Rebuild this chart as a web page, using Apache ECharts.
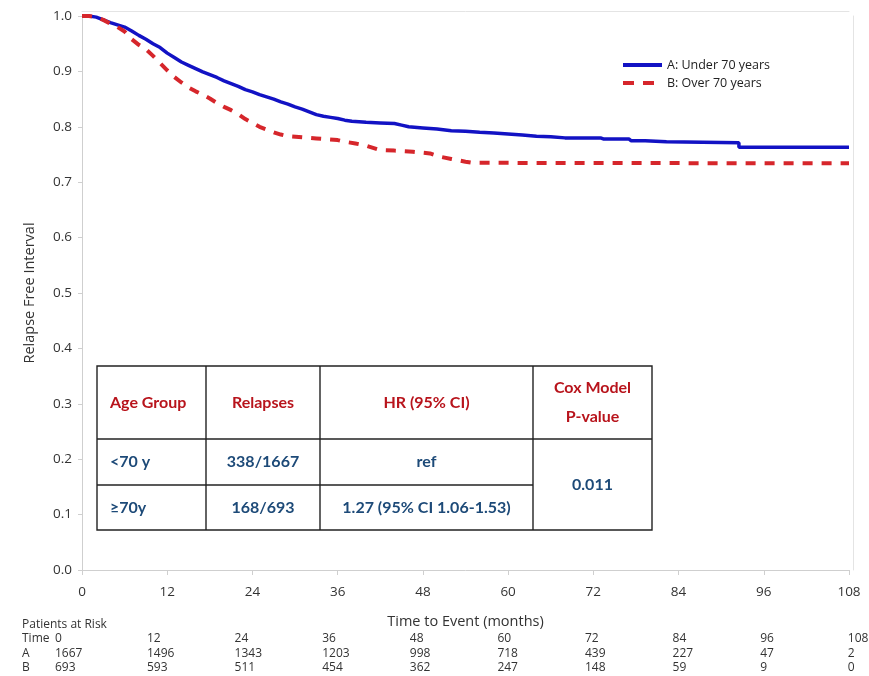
<!DOCTYPE html>
<html>
<head>
<meta charset="utf-8">
<script src="https://cdn.jsdelivr.net/npm/echarts@6/dist/echarts.min.js"></script>
<style>
html,body{margin:0;padding:0;background:#fff;}
#chart{width:869px;height:676px;}
</style>
</head>
<body>
<div id="chart"></div>
<script>
// ---- Data ----
const nameA = 'A: Under 70 years';
const nameB = 'B: Over 70 years';
const timeA = [0,1,2,3,4,5,6,7,8,9,10,11,12,13,14,15,16,17,18,19,20,21,22,23,24,25,26,27,28,29,30,31,32,33,34,35,36,37,38,39,40,42,44,45,46,48,50,52,54,56,58,60,62,64,66,68,73,73.4,77,77.3,79.3,79.5,82.3,82.5,92.5,92.5,108];
const survA = [1.0,1.0,0.998,0.993,0.988,0.984,0.980,0.973,0.965,0.958,0.950,0.943,0.933,0.925,0.917,0.911,0.905,0.899,0.894,0.889,0.883,0.878,0.873,0.867,0.863,0.858,0.854,0.850,0.845,0.841,0.836,0.832,0.827,0.822,0.819,0.817,0.815,0.812,0.810,0.809,0.808,0.807,0.806,0.803,0.800,0.798,0.796,0.793,0.792,0.790,0.789,0.787,0.785,0.783,0.782,0.780,0.780,0.778,0.778,0.775,0.775,0.773,0.773,0.771,0.771,0.763,0.763];
const timeB = [0,1,2,3,4,5,6,7,8,9,10,11,12,13,14,15,16,17,18,19,20,21,22,23,24,25,26,27,28,29,31,33,36,37,38.5,40,42,44,46.6,49,50.4,52,54,55,108];
const survB = [1.0,1.0,0.998,0.993,0.986,0.980,0.972,0.958,0.948,0.940,0.928,0.915,0.902,0.890,0.880,0.871,0.864,0.858,0.851,0.843,0.836,0.830,0.823,0.814,0.807,0.800,0.795,0.790,0.786,0.783,0.781,0.779,0.776,0.773,0.770,0.766,0.758,0.757,0.755,0.752,0.746,0.742,0.737,0.735,0.734];

const riskTimes = [0,12,24,36,48,60,72,84,96,108];
const riskA = [1667,1496,1343,1203,998,718,439,227,47,2];
const riskB = [693,593,511,454,362,247,148,59,9,0];

const tableHeader = ['Age Group','Relapses','HR (95% CI)','Cox Model\nP-value'];
const tableRow1 = ['<70 y','338/1667','ref'];
const tableRow2 = ['\u226570y','168/693','1.27 (95% CI 1.06-1.53)'];
const pValue = '0.011';

// ---- Styles ----
const axisGrey = '#cfcfcf';
const textGrey = '#333';
const blue = '#1212c4';
const red = '#d6262b';
const headRed = '#b8141c';
const bodyBlue = '#1d4a78';

const chart = echarts.init(document.getElementById('chart'), null, {renderer:'canvas'});

// graphic elements
const g = [];
// risk table
const riskFont = '12px "Open Sans"';
function riskX(i){ return i === 0 ? 55 : 147 + 87.6*(i-1); }
g.push({type:'text', style:{text:'Patients at Risk', x:22, y:625, font:riskFont, fill:textGrey, verticalAlign:'middle', textVerticalAlign:'middle'}});
[['Time',riskTimes,639],['A',riskA,654],['B',riskB,668]].forEach(function(r){
  g.push({type:'text', style:{text:r[0], x:22, y:r[2], font:riskFont, fill:textGrey, verticalAlign:'middle', textVerticalAlign:'middle'}});
  r[1].forEach(function(v,i){
    g.push({type:'text', style:{text:String(v), x:riskX(i), y:r[2], font:riskFont, fill:textGrey, verticalAlign:'middle', textVerticalAlign:'middle'}});
  });
});

// inset table
const tx = [97,206,320,533,652];
const ty = [366,439,485,530];
const lw = 1.4, lc = '#222';
function ln(x1,y1,x2,y2){ g.push({type:'line', shape:{x1:x1,y1:y1,x2:x2,y2:y2}, style:{stroke:lc, lineWidth:lw}, z:100}); }
g.push({type:'rect', shape:{x:tx[0],y:ty[0],width:tx[4]-tx[0],height:ty[3]-ty[0]}, style:{fill:'#fff', stroke:lc, lineWidth:lw}, z:99});
ln(tx[0],ty[1],tx[4],ty[1]);
ln(tx[0],ty[2],tx[3],ty[2]);
ln(tx[1],ty[0],tx[1],ty[3]);
ln(tx[2],ty[0],tx[2],ty[3]);
ln(tx[3],ty[0],tx[3],ty[3]);
const tFont = 'bold 16px Lato';
function tt(text,x,y,color,align){
  g.push({type:'text', z:101, style:{text:text, x:x, y:y, font:tFont, fill:color, align:align, textAlign:align, verticalAlign:'middle', textVerticalAlign:'middle', lineHeight:29}});
}
const hy = (ty[0]+ty[1])/2;
tt(tableHeader[0], 110, hy, headRed, 'left');
tt(tableHeader[1], (tx[1]+tx[2])/2, hy, headRed, 'center');
tt(tableHeader[2], (tx[2]+tx[3])/2, hy, headRed, 'center');
tt(tableHeader[3], (tx[3]+tx[4])/2, hy, headRed, 'center');
const r1y = (ty[1]+ty[2])/2, r2y = (ty[2]+ty[3])/2;
tt(tableRow1[0], 110, r1y, bodyBlue, 'left');
tt(tableRow1[1], (tx[1]+tx[2])/2, r1y, bodyBlue, 'center');
tt(tableRow1[2], (tx[2]+tx[3])/2, r1y, bodyBlue, 'center');
tt(tableRow2[0], 110, r2y, bodyBlue, 'left');
tt(tableRow2[1], (tx[1]+tx[2])/2, r2y, bodyBlue, 'center');
tt(tableRow2[2], (tx[2]+tx[3])/2, r2y, bodyBlue, 'center');
tt(pValue, (tx[3]+tx[4])/2, (ty[1]+ty[3])/2, bodyBlue, 'center');

const option = {
  animation:false,
  backgroundColor:'#fff',
  grid:{left:82, right:20, top:16, bottom:106},
  legend:{
    orient:'vertical', left:618, top:53, itemWidth:39, itemHeight:4, itemGap:4,
    data:[
      {name:nameA, icon:'path://M0,0H39V4H0Z'},
      {name:nameB, icon:'path://M0,0H11V4H0ZM20,0H31V4H20ZM39,0L39,4L39,0Z'}
    ],
    itemStyle:{borderWidth:0},
    textStyle:{fontFamily:'Open Sans', fontSize:12.5, color:'#222', padding:[0,0,0,0], lineHeight:14}
  },
  xAxis:[{
    type:'value', min:0, max:108, interval:12, offset:5,
    name:'Time to Event (months)', nameLocation:'middle', nameGap:39,
    nameTextStyle:{fontFamily:'Open Sans', fontSize:14.5, color:textGrey},
    axisLine:{show:true, lineStyle:{color:axisGrey, width:1}},
    axisTick:{show:true, length:5, lineStyle:{color:axisGrey}},
    axisLabel:{fontFamily:'Open Sans', fontSize:13.5, color:textGrey, margin:10},
    splitLine:{show:false}
  },{
    type:'value', min:0, max:108, position:'top', offset:5,
    axisLine:{show:true, onZero:false, lineStyle:{color:'#e4e4e4', width:1}},
    axisTick:{show:false}, axisLabel:{show:false}, splitLine:{show:false}
  }],
  yAxis:[{
    type:'value', min:0, max:1, interval:0.1, offset:4,
    name:'Relapse Free Interval', nameLocation:'middle', nameGap:41,
    nameTextStyle:{fontFamily:'Open Sans', fontSize:14.5, color:textGrey},
    axisLine:{show:true, lineStyle:{color:axisGrey, width:1}},
    axisTick:{show:true, length:4, lineStyle:{color:axisGrey}},
    axisLabel:{fontFamily:'Open Sans', fontSize:13.5, color:textGrey, margin:6,
      formatter:function(v){return v.toFixed(1);}},
    splitLine:{show:false}
  },{
    type:'value', min:0, max:1, position:'right', offset:4,
    axisLine:{show:true, onZero:false, lineStyle:{color:'#e4e4e4', width:1}},
    axisTick:{show:false}, axisLabel:{show:false}, splitLine:{show:false}
  }],
  series:[{
    name:nameA, type:'line', symbol:'none', xAxisIndex:0, yAxisIndex:0,
    data:timeA.map(function(t,i){return [t, survA[i]];}),
    lineStyle:{color:blue, width:3.5}, itemStyle:{color:blue}, z:3
  },{
    name:nameB, type:'line', symbol:'none', xAxisIndex:0, yAxisIndex:0,
    data:timeB.map(function(t,i){return [t, survB[i]];}),
    lineStyle:{color:red, width:4, type:[10,9]}, itemStyle:{color:red}, z:4
  }],
  graphic:g
};
chart.setOption(option);
</script>
</body>
</html>
